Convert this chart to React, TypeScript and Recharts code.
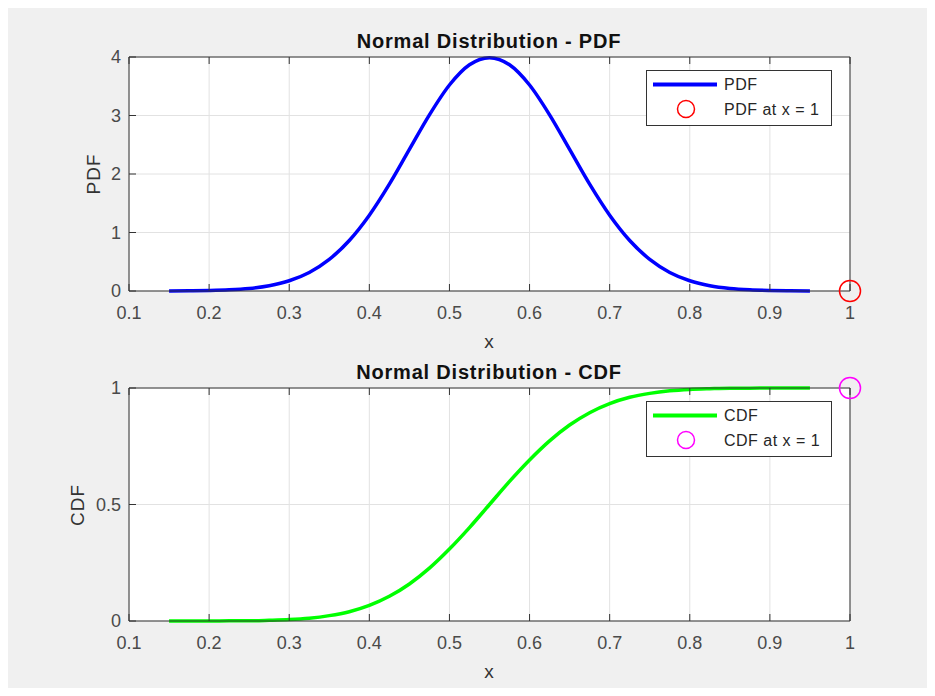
import React from 'react';
import { ComposedChart, Line, Scatter, XAxis, YAxis, CartesianGrid } from 'recharts';

// values (normal curve, mean ~0.55)
const xValues = [
  0.15, 0.175, 0.2, 0.225, 0.25, 0.275, 0.3, 0.325, 0.35, 0.375, 0.4, 0.425, 0.45, 0.475, 0.5, 0.525,
  0.55, 0.575, 0.6, 0.625, 0.65, 0.675, 0.7, 0.725, 0.75, 0.775, 0.8, 0.825, 0.85, 0.875, 0.9, 0.925, 0.95,
];
const pdfValues = [
  0.001, 0.004, 0.009, 0.02, 0.044, 0.091, 0.175, 0.317, 0.54, 0.863, 1.295, 1.826, 2.42, 3.011, 3.521, 3.867,
  3.989, 3.867, 3.521, 3.011, 2.42, 1.826, 1.295, 0.863, 0.54, 0.317, 0.175, 0.091, 0.044, 0.02, 0.009, 0.004, 0.001,
];
const cdfValues = [
  0.0, 0.0, 0.0, 0.001, 0.001, 0.003, 0.006, 0.012, 0.023, 0.04, 0.067, 0.106, 0.159, 0.227, 0.309, 0.401,
  0.5, 0.599, 0.691, 0.773, 0.841, 0.894, 0.933, 0.96, 0.977, 0.988, 0.994, 0.997, 0.999, 0.999, 1.0, 1.0, 1.0,
];
const xTicks = [0.1, 0.2, 0.3, 0.4, 0.5, 0.6, 0.7, 0.8, 0.9, 1];
const pdfTicks = [0, 1, 2, 3, 4];
const cdfTicks = [0, 0.5, 1];
const pdfMarker = [{ x: 1, y: 0 }];
const cdfMarker = [{ x: 1, y: 1 }];

const pdfData = xValues.map((x, i) => ({ x, y: pdfValues[i] }));
const cdfData = xValues.map((x, i) => ({ x, y: cdfValues[i] }));

const FONT = '"Liberation Sans", Arial, Helvetica, sans-serif';
const AXIS = '#333333';
const TICK_TEXT = { fill: '#4a4a4a', fontSize: 18, fontFamily: FONT };
const TICK_LINE = { stroke: AXIS, strokeWidth: 1 };

interface PanelProps {
  top: number;
  marginTop: number;
  marginBottom: number;
  data: { x: number; y: number }[];
  marker: { x: number; y: number }[];
  yDomain: [number, number];
  yTicks: number[];
  lineColor: string;
  markerColor: string;
}

const Panel: React.FC<PanelProps> = ({ top, marginTop, marginBottom, data, marker, yDomain, yTicks, lineColor, markerColor }) => (
  <div style={{ position: 'absolute', left: 0, top }}>
    <ComposedChart width={935} height={330} data={data} margin={{ top: marginTop, right: 84, bottom: marginBottom, left: 89 }}>
      <CartesianGrid stroke="#e2e2e2" strokeWidth={1} fill="#ffffff" fillOpacity={1} />
      <XAxis
        dataKey="x"
        type="number"
        domain={[0.1, 1]}
        ticks={xTicks}
        interval={0}
        height={30}
        axisLine={TICK_LINE}
        tickLine={TICK_LINE}
        tickSize={-7}
        tickMargin={22}
        tick={TICK_TEXT}
        tickFormatter={(v) => String(v)}
      />
      <XAxis
        xAxisId="top"
        orientation="top"
        dataKey="x"
        type="number"
        domain={[0.1, 1]}
        ticks={xTicks}
        interval={0}
        height={1}
        axisLine={TICK_LINE}
        tickLine={TICK_LINE}
        tickSize={-7}
        tick={TICK_TEXT}
        tickFormatter={() => ''}
      />
      <YAxis
        type="number"
        domain={yDomain}
        ticks={yTicks}
        interval={0}
        width={40}
        axisLine={TICK_LINE}
        tickLine={TICK_LINE}
        tickSize={-7}
        tickMargin={15}
        tick={TICK_TEXT}
      />
      <YAxis
        yAxisId="right"
        orientation="right"
        type="number"
        domain={yDomain}
        ticks={yTicks}
        interval={0}
        width={1}
        axisLine={TICK_LINE}
        tickLine={TICK_LINE}
        tickSize={-7}
        tick={TICK_TEXT}
        tickFormatter={() => ''}
      />
      <Line
        type="monotone"
        dataKey="y"
        stroke={lineColor}
        strokeWidth={3.5}
        dot={false}
        activeDot={false}
        isAnimationActive={false}
      />
      <Scatter
        data={marker}
        dataKey="y"
        isAnimationActive={false}
        shape={(p: any) => <circle cx={p.cx} cy={p.cy} r={10.5} fill="none" stroke={markerColor} strokeWidth={1.5} />}
      />
    </ComposedChart>
  </div>
);

const LegendBox: React.FC<{ top: number; lineColor: string; markerColor: string; lineLabel: string; markerLabel: string }> = ({
  top,
  lineColor,
  markerColor,
  lineLabel,
  markerLabel,
}) => (
  <svg style={{ position: 'absolute', left: 646, top }} width={186} height={57}>
    <rect x={0.5} y={0.5} width={185} height={55} fill="#ffffff" stroke={AXIS} strokeWidth={1} />
    <line x1={7} y1={14.5} x2={71} y2={14.5} stroke={lineColor} strokeWidth={4} />
    <text x={78} y={14.5} dominantBaseline="central" fontSize={16} letterSpacing={0.5} fontFamily={FONT} fill="#262626">
      {lineLabel}
    </text>
    <circle cx={40} cy={39} r={8.5} fill="none" stroke={markerColor} strokeWidth={1.5} />
    <text x={78} y={39} dominantBaseline="central" fontSize={16} letterSpacing={0.5} fontFamily={FONT} fill="#262626">
      {markerLabel}
    </text>
  </svg>
);

const textBase: React.CSSProperties = {
  position: 'absolute',
  fontFamily: FONT,
  whiteSpace: 'nowrap',
  transform: 'translate(-50%, -50%)',
  lineHeight: 1,
};

export default function App() {
  return (
    <div style={{ position: 'relative', margin: -8, width: 935, height: 696, background: '#ffffff', overflow: 'hidden' }}>
      <div style={{ position: 'absolute', left: 7, top: 7, width: 924, height: 689, background: '#f0f0f0' }} />

      <Panel
        top={0}
        marginTop={56}
        marginBottom={9}
        data={pdfData}
        marker={pdfMarker}
        yDomain={[0, 4]}
        yTicks={pdfTicks}
        lineColor="#0000ff"
        markerColor="#ff0000"
      />
      <Panel
        top={340}
        marginTop={47}
        marginBottom={19}
        data={cdfData}
        marker={cdfMarker}
        yDomain={[0, 1]}
        yTicks={cdfTicks}
        lineColor="#00ff00"
        markerColor="#ff00ff"
      />

      <div style={{ ...textBase, left: 489, top: 41, fontSize: 20, fontWeight: 'bold', letterSpacing: 0.8, color: '#111' }}>
        Normal Distribution - PDF
      </div>
      <div style={{ ...textBase, left: 489, top: 372, fontSize: 20, fontWeight: 'bold', letterSpacing: 0.8, color: '#111' }}>
        Normal Distribution - CDF
      </div>
      <div style={{ ...textBase, left: 489, top: 341, fontSize: 19, color: '#333' }}>x</div>
      <div style={{ ...textBase, left: 489, top: 671, fontSize: 19, color: '#333' }}>x</div>
      <div style={{ ...textBase, left: 93, top: 174, fontSize: 19, letterSpacing: 1, color: '#333', transform: 'translate(-50%, -50%) rotate(-90deg)' }}>
        PDF
      </div>
      <div style={{ ...textBase, left: 77, top: 505, fontSize: 19, letterSpacing: 1, color: '#333', transform: 'translate(-50%, -50%) rotate(-90deg)' }}>
        CDF
      </div>

      <LegendBox top={70} lineColor="#0000ff" markerColor="#ff0000" lineLabel="PDF" markerLabel="PDF at x = 1" />
      <LegendBox top={401} lineColor="#00ff00" markerColor="#ff00ff" lineLabel="CDF" markerLabel="CDF at x = 1" />
    </div>
  );
}
